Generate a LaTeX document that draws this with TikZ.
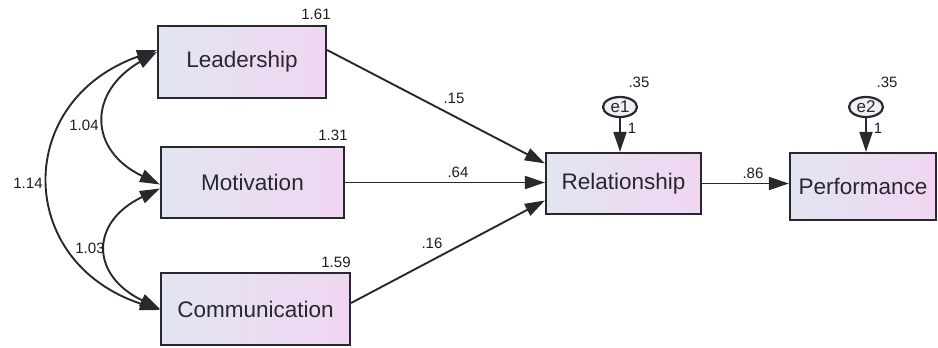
\documentclass[tikz,border=0pt]{standalone}
\usepackage{fontspec}
\setmainfont{Liberation Sans}
\usetikzlibrary{arrows.meta,shapes.geometric}
\definecolor{boxL}{RGB}{226,229,242}
\definecolor{boxR}{RGB}{240,214,242}
\definecolor{edge}{RGB}{40,40,45}
\definecolor{numc}{RGB}{30,30,30}
\tikzset{
  var/.style={draw=edge, line width=2.2pt, left color=boxL, right color=boxR,
    font=\fontsize{22.5}{24}\selectfont, text=edge, inner sep=0pt},
  err/.style={draw=edge, line width=2.2pt, ellipse, fill=boxL!60!white, minimum width=34pt,
    minimum height=20pt, inner sep=0pt, font=\fontsize{17}{18}\selectfont, text=edge},
  num/.style={font=\fontsize{15}{16}\selectfont, text=numc, inner sep=0pt},
  tip/.style={Triangle[length=20pt,width=13pt]},
  patharr/.style={draw=edge, line width=1.9pt, -{Triangle[length=20pt,width=13pt]}},
  cov/.style={draw=edge, line width=1.9pt, {Triangle[length=20pt,width=13pt]}-{Triangle[length=20pt,width=13pt]}}
}
\begin{document}
\begin{tikzpicture}[x=1pt,y=1pt]
\useasboundingbox (0,0) rectangle (938,-348);
% variables
\node[var, minimum width=168pt, minimum height=72pt] (L) at (242,-62) {Leadership};
\node[var, minimum width=183pt, minimum height=71pt] (M) at (252.5,-182.5) {Motivation};
\node[var, minimum width=189pt, minimum height=72pt] (C) at (255.5,-309) {Communication};
\node[var, minimum width=155pt, minimum height=61pt] (R) at (623.5,-183.5) {Relationship};
\node[var, minimum width=146pt, minimum height=67pt] (P) at (863,-186.5) {Performance};
% errors
\node[err] (e1) at (620,-107) {e1};
\node[err] (e2) at (866,-107) {e2};
% paths
\draw[patharr] ([yshift=12pt]L.east) -- ([yshift=20pt]R.west);
\draw[patharr] (M.east) -- (M.east -| R.west);
\draw[patharr] ([yshift=6pt]C.east) -- ([yshift=-17pt]R.west);
\draw[patharr] (R.east) -- (R.east -| P.west);
\draw[patharr] (e1.south) -- (e1.south |- R.north);
\draw[patharr] (e2.south) -- (e2.south |- P.north);
% covariances
\draw[cov] ([yshift=10pt]L.west) .. controls (88,-92) and (88,-150) .. ([yshift=-2pt]M.west);
\draw[cov] ([yshift=-6pt]M.west) .. controls (90,-222) and (90,-275) .. (C.west);
\draw[cov] ([yshift=12pt]L.west) .. controls (14,-100) and (14,-262) .. ([yshift=-1pt]C.west);
% labels
\node[num] (n161) at (316,-14) {1.61};
\node[num] (n131) at (333,-135) {1.31};
\node[num] (n159) at (336,-262) {1.59};
\node[num] (n104) at (84,-125) {1.04};
\node[num] (n114) at (28,-183) {1.14};
\node[num] (n103) at (90,-248) {1.03};
\node[num] (n15) at (454,-98) {.15};
\node[num] (n64) at (458,-172) {.64};
\node[num] (n16) at (432,-243) {.16};
\node[num] (n86) at (753,-173) {.86};
\node[num] (n35a) at (639,-82) {.35};
\node[num] (n35b) at (887,-82) {.35};
\node[num] (n1a) at (632,-128) {1};
\node[num] (n1b) at (878,-128) {1};
\end{tikzpicture}
\end{document}
